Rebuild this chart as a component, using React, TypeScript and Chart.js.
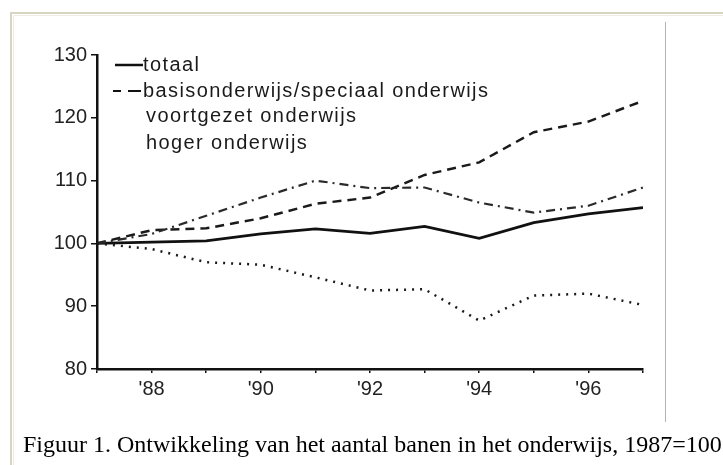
import React, { useEffect, useRef } from "react";
import { Chart, registerables } from "chart.js";

Chart.register(...registerables);

const years = [1987, 1988, 1989, 1990, 1991, 1992, 1993, 1994, 1995, 1996, 1997];
const totaal = [100, 100.2, 100.4, 101.5, 102.3, 101.6, 102.7, 100.8, 103.3, 104.7, 105.7];
const basisSpeciaal = [100, 102.1, 102.4, 104.0, 106.3, 107.3, 110.9, 112.9, 117.7, 119.4, 122.7];
const voortgezet = [100, 101.5, 104.4, 107.3, 110.0, 108.8, 108.9, 106.5, 104.9, 106.0, 108.9];
const hoger = [100, 99.1, 97.0, 96.6, 94.6, 92.5, 92.7, 87.7, 91.7, 92.0, 90.2];

const yMin = 80;
const yMax = 130;
const yStep = 10;
const labelledYears = [1988, 1990, 1992, 1994, 1996];

const seriesNames = [
  "totaal",
  "basisonderwijs/speciaal onderwijs",
  "voortgezet onderwijs",
  "hoger onderwijs",
];
const caption = "Figuur 1. Ontwikkeling van het aantal banen in het onderwijs, 1987=100";

const sans = "'Liberation Sans', Arial, sans-serif";
const serif = "'Liberation Serif', 'Times New Roman', serif";

const decorPlugin = {
  id: "decor",
  beforeDraw(chart: any) {
    const ctx = chart.ctx;
    ctx.save();
    ctx.fillStyle = "#ffffff";
    ctx.fillRect(0, 0, chart.width, chart.height);
    // outer frame
    ctx.strokeStyle = "#d9d5c3";
    ctx.lineWidth = 2;
    ctx.beginPath();
    ctx.moveTo(11, chart.height);
    ctx.lineTo(11, 13);
    ctx.lineTo(chart.width, 13);
    ctx.stroke();
    ctx.strokeStyle = "#efede4";
    ctx.lineWidth = 1;
    ctx.beginPath();
    ctx.moveTo(13.5, chart.height);
    ctx.lineTo(13.5, 15.5);
    ctx.lineTo(chart.width, 15.5);
    ctx.stroke();
    // right separator
    ctx.strokeStyle = "#b4b4b4";
    ctx.lineWidth = 1;
    ctx.beginPath();
    ctx.moveTo(665.5, 22);
    ctx.lineTo(665.5, 422);
    ctx.stroke();
    ctx.restore();
  },
  afterDraw(chart: any) {
    const ctx = chart.ctx;
    ctx.save();
    // legend samples
    ctx.strokeStyle = "#111";
    ctx.lineWidth = 2.5;
    ctx.setLineDash([]);
    ctx.beginPath();
    ctx.moveTo(115, 65);
    ctx.lineTo(143, 65);
    ctx.stroke();
    ctx.lineWidth = 2;
    ctx.beginPath();
    ctx.moveTo(113, 91);
    ctx.lineTo(121, 91);
    ctx.moveTo(128, 91);
    ctx.lineTo(141, 91);
    ctx.stroke();

    ctx.fillStyle = "#1a1a1a";
    ctx.font = `20px ${sans}`;
    ctx.textBaseline = "middle";
    ctx.textAlign = "left";
    if ("letterSpacing" in ctx) (ctx as any).letterSpacing = "1.4px";
    const rows = [
      { x: 143, y: 65 },
      { x: 143, y: 91 },
      { x: 146, y: 116 },
      { x: 146, y: 143 },
    ];
    seriesNames.forEach((name, i) => {
      ctx.fillText(name, rows[i].x, rows[i].y);
    });
    if ("letterSpacing" in ctx) (ctx as any).letterSpacing = "0px";

    // caption
    ctx.fillStyle = "#000";
    ctx.font = `24px ${serif}`;
    ctx.textBaseline = "alphabetic";
    ctx.fillText(caption, 23, 452);
    ctx.restore();
  },
};

export default function App() {
  const canvasRef = useRef<HTMLCanvasElement | null>(null);

  useEffect(() => {
    const canvas = canvasRef.current;
    if (!canvas) return;
    const toPts = (arr: number[]) => arr.map((v, i) => ({ x: years[i], y: v }));
    const chart = new Chart(canvas, {
      type: "line",
      data: {
        datasets: [
          {
            label: seriesNames[3],
            data: toPts(hoger),
            borderColor: "#1a1a1a",
            borderWidth: 2.5,
            borderDash: [2, 6],
            pointRadius: 0,
            fill: false,
            tension: 0,
          },
          {
            label: seriesNames[2],
            data: toPts(voortgezet),
            borderColor: "#2a2a2a",
            borderWidth: 2.2,
            borderDash: [9, 5, 2, 5],
            pointRadius: 0,
            fill: false,
            tension: 0,
          },
          {
            label: seriesNames[1],
            data: toPts(basisSpeciaal),
            borderColor: "#1a1a1a",
            borderWidth: 2.5,
            borderDash: [9, 6],
            pointRadius: 0,
            fill: false,
            tension: 0,
          },
          {
            label: seriesNames[0],
            data: toPts(totaal),
            borderColor: "#111111",
            borderWidth: 2.8,
            pointRadius: 0,
            fill: false,
            tension: 0,
          },
        ],
      },
      options: {
        animation: false,
        responsive: false,
        maintainAspectRatio: false,
        layout: { padding: { left: 37, right: 80, top: 55, bottom: 56 } },
        plugins: {
          legend: { display: false },
          tooltip: { enabled: false },
          title: { display: false },
        },
        scales: {
          x: {
            type: "linear",
            min: years[0],
            max: years[years.length - 1],
            afterFit: (scale: any) => {
              scale.height = 40;
            },
            afterBuildTicks: (scale: any) => {
              scale.ticks = years.map((y) => ({ value: y }));
            },
            ticks: {
              autoSkip: false,
              maxRotation: 0,
              padding: 4,
              color: "#222",
              font: { family: sans, size: 20 },
              callback: (v: any) =>
                labelledYears.includes(Number(v)) ? "'" + String(v).slice(2) : "",
            },
            grid: {
              drawOnChartArea: false,
              drawTicks: true,
              tickLength: 4,
              color: "#111",
              lineWidth: 1.5,
            },
            border: { display: true, color: "#111", width: 2.5 },
          },
          y: {
            type: "linear",
            min: yMin,
            max: yMax,
            afterFit: (scale: any) => {
              scale.width = 60;
            },
            ticks: {
              stepSize: yStep,
              padding: 4,
              color: "#222",
              font: { family: sans, size: 20 },
            },
            grid: {
              drawOnChartArea: false,
              drawTicks: true,
              tickLength: 6,
              color: "#111",
              lineWidth: 1.5,
            },
            border: { display: true, color: "#111", width: 2.5 },
          },
        },
      },
      plugins: [decorPlugin],
    } as any);
    return () => chart.destroy();
  }, []);

  return (
    <div
      style={{
        position: "fixed",
        left: 0,
        top: 0,
        width: 723,
        height: 465,
        background: "#fff",
      }}
    >
      <canvas ref={canvasRef} width={723} height={465} style={{ display: "block" }} />
    </div>
  );
}
